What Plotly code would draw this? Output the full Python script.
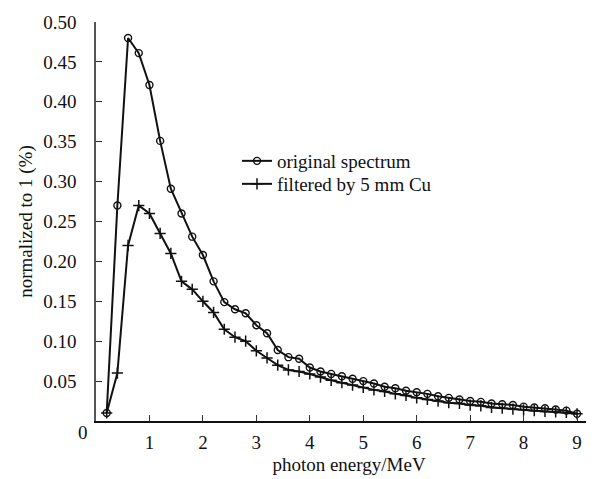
import plotly.graph_objects as go

energy = [0.2, 0.4, 0.6, 0.8, 1.0, 1.2, 1.4, 1.6, 1.8, 2.0, 2.2, 2.4, 2.6, 2.8, 3.0,
          3.2, 3.4, 3.6, 3.8, 4.0, 4.2, 4.4, 4.6, 4.8, 5.0, 5.2, 5.4, 5.6, 5.8, 6.0,
          6.2, 6.4, 6.6, 6.8, 7.0, 7.2, 7.4, 7.6, 7.8, 8.0, 8.2, 8.4, 8.6, 8.8, 9.0]

original = [0.010, 0.270, 0.480, 0.461, 0.421, 0.351, 0.291, 0.260, 0.231, 0.208,
            0.175, 0.149, 0.140, 0.135, 0.120, 0.110, 0.089, 0.080, 0.078, 0.067,
            0.062, 0.059, 0.056, 0.053, 0.050, 0.047, 0.043, 0.041, 0.038, 0.036,
            0.034, 0.031, 0.029, 0.027, 0.025, 0.024, 0.022, 0.021, 0.020, 0.018,
            0.017, 0.016, 0.0145, 0.013, 0.009]

filtered = [0.010, 0.060, 0.220, 0.270, 0.260, 0.235, 0.210, 0.175, 0.165, 0.150,
            0.136, 0.115, 0.105, 0.100, 0.088, 0.079, 0.070, 0.064, 0.062, 0.059,
            0.055, 0.051, 0.048, 0.045, 0.042, 0.039, 0.037, 0.034, 0.032, 0.029,
            0.027, 0.025, 0.023, 0.022, 0.020, 0.019, 0.017, 0.016, 0.015, 0.014,
            0.013, 0.012, 0.0115, 0.0107, 0.009]

x_ticks = [1, 2, 3, 4, 5, 6, 7, 8, 9]
y_ticks = [0.05, 0.10, 0.15, 0.20, 0.25, 0.30, 0.35, 0.40, 0.45, 0.50]

FONT = "'Liberation Serif', 'Times New Roman', 'DejaVu Serif', serif"
FS = 19
L, R, T, B = 88, 0, 14, 66
PW, PH = 594 - L - R, 479 - T - B

fig = go.Figure()
fig.add_trace(go.Scatter(
    x=energy, y=original, mode="lines+markers", name="original spectrum",
    line=dict(color="#111111", width=2), legend="legend",
    marker=dict(symbol="circle-open", size=7, color="#111111", line=dict(width=1.4)),
))
fig.add_trace(go.Scatter(
    x=energy, y=filtered, mode="lines+markers", name="filtered by 5 mm Cu",
    line=dict(color="#111111", width=2), legend="legend2",
    marker=dict(symbol="cross-thin", size=8, color="#111111", line=dict(width=1.5, color="#111111")),
))

leg_common = dict(xanchor="left", yanchor="middle", bgcolor="rgba(0,0,0,0)",
                  font=dict(family=FONT, size=FS), itemwidth=30)

fig.update_layout(
    width=594, height=479,
    margin=dict(l=L, r=R, t=T, b=B, autoexpand=False),
    paper_bgcolor="white", plot_bgcolor="white",
    font=dict(family=FONT, size=FS, color="#111111"),
    showlegend=True,
    legend=dict(x=(229 - L) / PW, y=(413 - 153) / PH, **leg_common),
    legend2=dict(x=(229 - L) / PW, y=(413 - 176) / PH, **leg_common),
    annotations=[dict(text="0", x=(68 - L) / PW, y=(413 - 437) / PH,
                      xref="paper", yref="paper", showarrow=False,
                      font=dict(family=FONT, size=FS))],
)

fig.update_xaxes(
    range=[0, PW / 53.45], tickvals=x_ticks, ticktext=[str(v) for v in x_ticks],
    ticks="inside", ticklen=6, tickwidth=1, tickcolor="#333333",
    showline=True, linecolor="#111111", linewidth=1.5, mirror=False,
    showgrid=False, zeroline=False, automargin=False, ticklabelstandoff=3,
    title=dict(text="photon energy/MeV", font=dict(family=FONT, size=FS), standoff=6),
)
fig.update_yaxes(
    range=[0, 0.5], tickvals=y_ticks, ticktext=["%.2f" % v for v in y_ticks],
    ticks="inside", ticklen=6, tickwidth=1, tickcolor="#333333",
    showline=True, linecolor="#555555", linewidth=1.5, mirror=True,
    showgrid=False, zeroline=False, ticklabelstandoff=14, automargin=False,
    title=dict(text="normalized to 1 (%)", font=dict(family=FONT, size=FS), standoff=6),
)

fig.write_html("out.html")
